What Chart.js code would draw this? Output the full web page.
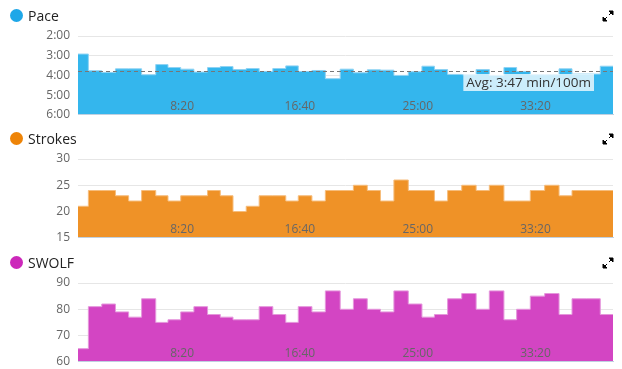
<!DOCTYPE html>
<html>
<head>
<meta charset="utf-8">
<script src="https://cdn.jsdelivr.net/npm/chart.js@4.4.1/dist/chart.umd.min.js"></script>
<style>
  html, body { margin: 0; padding: 0; background: #fff; }
  body { width: 622px; height: 369px; position: relative; overflow: hidden; font-family: 'Open Sans', sans-serif; }
  .panel { position: absolute; left: 0; width: 622px; height: 130px; }
  .panel canvas { position: absolute; left: 0; top: 0; }
  .title { position: absolute; left: 10px; top: 6px; height: 18px; display: flex; align-items: center; font-size: 14px; color: #222; }
  .dot { width: 13px; height: 13px; border-radius: 50%; margin-right: 5px; }
  .expand { position: absolute; left: 602px; top: 10px; }
</style>
</head>
<body>

<div class="panel" style="top:0px">
  <canvas id="pace" width="622" height="130"></canvas>
  <div class="title"><span class="dot" style="background:#1ea7e8"></span>Pace</div>
  <svg class="expand" width="12" height="12"><path d="M7 1H11V5Z M9 3L7 5 M1 7V11H5Z M3 9L5 7" fill="#000" stroke="#000" stroke-width="1"/></svg>
</div>
<div class="panel" style="top:123px">
  <canvas id="strokes" width="622" height="130"></canvas>
  <div class="title"><span class="dot" style="background:#ee8407"></span>Strokes</div>
  <svg class="expand" width="12" height="12"><path d="M7 1H11V5Z M9 3L7 5 M1 7V11H5Z M3 9L5 7" fill="#000" stroke="#000" stroke-width="1"/></svg>
</div>
<div class="panel" style="top:247px">
  <canvas id="swolf" width="622" height="130"></canvas>
  <div class="title"><span class="dot" style="background:#cc28ba"></span>SWOLF</div>
  <svg class="expand" width="12" height="12"><path d="M7 1H11V5Z M9 3L7 5 M1 7V11H5Z M3 9L5 7" fill="#000" stroke="#000" stroke-width="1"/></svg>
</div>

<script>
// elapsed time (s) where the first length starts, and duration of each 25 m length
const startSec = 58;
const lengthSeconds = [44, 57, 58, 56, 55, 60, 52, 54, 56, 58,
                       54, 54, 56, 55, 58, 55, 53, 58, 57, 63,
                       56, 59, 56, 57, 61, 58, 53, 56, 60, 61,
                       56, 62, 54, 58, 61, 61, 55, 60, 60, 54];

// pace per length, seconds per 100 m
const paceSeconds = [175, 226, 231, 220, 220, 238, 207, 216, 221, 230,
                     216, 213, 222, 219, 228, 219, 211, 228, 225, 250,
                     221, 232, 223, 224, 240, 229, 212, 222, 237, 238,
                     222, 240, 216, 228, 238, 238, 220, 236, 236, 212];
const avgPace = 227;

const strokes = [21, 24, 24, 23, 22, 24, 23, 22, 23, 23,
                 24, 23, 20, 21, 23, 23, 22, 23, 22, 24,
                 24, 25, 24, 22, 26, 24, 24, 22, 24, 25,
                 24, 25, 22, 22, 24, 25, 23, 24, 24, 24];

const swolf = [65, 81, 82, 79, 77, 84, 75, 76, 79, 81,
               78, 77, 76, 76, 81, 78, 75, 81, 79, 87,
               80, 84, 80, 79, 87, 82, 77, 78, 84, 86,
               80, 87, 76, 80, 85, 86, 78, 84, 84, 78];

const xTickSeconds = [500, 1000, 1500, 2000];
const paceTicks = [120, 180, 240, 300, 360];
const strokeTicks = [15, 20, 25, 30];
const swolfTicks = [60, 70, 80, 90];

const fmt = s => Math.floor(s / 60) + ':' + String(Math.round(s % 60)).padStart(2, '0');

// one point at the start of each length, plus the end of the last one
function steps(values) {
  const pts = [];
  let t = startSec;
  values.forEach((v, i) => {
    pts.push({ x: t, y: v });
    t += lengthSeconds[i];
  });
  pts.push({ x: t, y: values[values.length - 1] });
  return pts;
}

const endSec = startSec + lengthSeconds.reduce((a, b) => a + b, 0);
const font = { family: 'Open Sans', size: 12 };

const avgLine = {
  id: 'avgLine',
  afterDatasetsDraw(chart) {
    const { ctx, chartArea, scales } = chart;
    const y = Math.round(scales.y.getPixelForValue(avgPace)) + 0.5;
    ctx.save();
    ctx.strokeStyle = '#777';
    ctx.lineWidth = 1;
    ctx.setLineDash([4, 3]);
    ctx.beginPath();
    ctx.moveTo(chartArea.left, y);
    ctx.lineTo(chartArea.right, y);
    ctx.stroke();
    ctx.setLineDash([]);
    ctx.font = '13.5px "Open Sans"';
    const text = 'Avg: ' + fmt(avgPace) + ' min/100m';
    const w = ctx.measureText(text).width;
    const bx = chartArea.right - 19 - w - 6;
    ctx.fillStyle = 'rgba(255,255,255,0.75)';
    ctx.fillRect(bx, y + 2.5, w + 6, 17);
    ctx.fillStyle = '#333';
    ctx.textBaseline = 'middle';
    ctx.fillText(text, bx + 3, y + 11.5);
    ctx.restore();
  }
};

function makeChart(id, values, fillColor, lineColor, yTicks, reverse, formatY, plugins) {
  const base = reverse ? yTicks[yTicks.length - 1] : yTicks[0];
  return new Chart(document.getElementById(id), {
    type: 'line',
    data: {
      datasets: [{
        data: steps(values),
        stepped: 'before',
        borderColor: lineColor,
        borderWidth: 1,
        backgroundColor: fillColor,
        fill: { value: base },
        pointRadius: 0
      }]
    },
    options: {
      responsive: false,
      animation: false,
      devicePixelRatio: 1,
      layout: { padding: { top: 36, bottom: 7, left: 0, right: 9 } },
      plugins: { legend: { display: false }, tooltip: { enabled: false } },
      scales: {
        x: {
          type: 'linear',
          min: startSec,
          max: endSec,
          afterBuildTicks: s => { s.ticks = xTickSeconds.map(v => ({ value: v })); },
          afterFit: s => { s.height = 2; },
          grid: { display: false, drawTicks: false },
          border: { display: true, color: '#c0d0e0', width: 1, z: 1 },
          ticks: { mirror: true, padding: 1, z: 1, color: '#666', font, maxRotation: 0, autoSkip: false, callback: v => fmt(v) }
        },
        y: {
          min: yTicks[0],
          max: yTicks[yTicks.length - 1],
          reverse,
          afterBuildTicks: s => { s.ticks = yTicks.map(v => ({ value: v })); },
          afterFit: s => { s.width = 78; },
          grid: { color: '#e6e6e6', drawTicks: false },
          border: { display: false },
          ticks: { padding: 8, color: '#666', font, callback: formatY }
        }
      }
    },
    plugins: plugins || []
  });
}

makeChart('pace', paceSeconds, '#34b6ed', '#8fd3f4', paceTicks, true, v => fmt(v), [avgLine]);
makeChart('strokes', strokes, '#ef9227', '#f6bd7c', strokeTicks, false, v => v);
makeChart('swolf', swolf, '#d345c3', '#e597dc', swolfTicks, false, v => v);
</script>
</body>
</html>
